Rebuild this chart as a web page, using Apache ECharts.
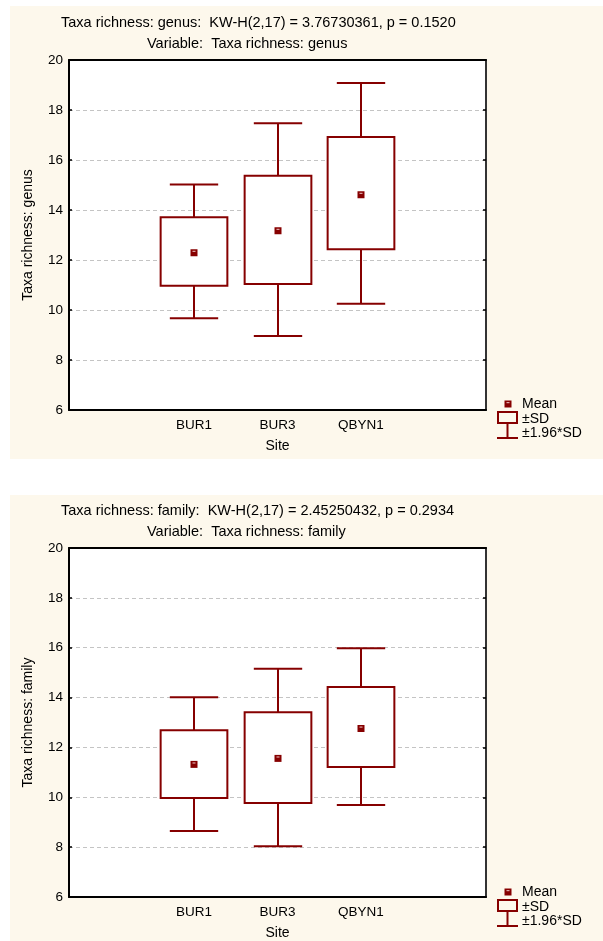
<!DOCTYPE html>
<html>
<head>
<meta charset="utf-8">
<script src="https://cdn.jsdelivr.net/npm/echarts@6/dist/echarts.min.js"></script>
<style>
html,body{margin:0;padding:0;background:#ffffff;}
#chart{width:603px;height:941px;}
</style>
</head>
<body>
<div id="chart"></div>
<script>
// ---- data ----
const categories = ['', 'BUR1', 'BUR3', 'QBYN1', ' '];
const sites = ['BUR1', 'BUR3', 'QBYN1'];
const yTicks = [6, 8, 10, 12, 14, 16, 18, 20];

// Taxa richness: genus
const genusCiLow  = [9.67, 8.96, 10.25];
const genusSdLow  = [10.97, 11.04, 12.43];
const genusMean   = [12.29, 13.17, 14.61];
const genusSdHigh = [13.71, 15.37, 16.92];
const genusCiHigh = [15.02, 17.47, 19.08];

// Taxa richness: family
const familyCiLow  = [8.65, 8.04, 9.69];
const familySdLow  = [9.97, 9.77, 11.21];
const familyMean   = [11.32, 11.56, 12.76];
const familySdHigh = [12.69, 13.41, 14.42];
const familyCiHigh = [14.01, 15.16, 15.98];

const panelTitles = [
  'Taxa richness: genus:  KW-H(2,17) = 3.76730361, p = 0.1520',
  'Taxa richness: family:  KW-H(2,17) = 2.45250432, p = 0.2934'
];
const panelSubtitles = ['Variable:  Taxa richness: genus', 'Variable:  Taxa richness: family'];
const yNames = ['Taxa richness: genus', 'Taxa richness: family'];
const xName = 'Site';
const legendLabels = ['Mean', '\u00b1SD', '\u00b11.96*SD'];

// ---- styling ----
const FONT = "'Liberation Sans', Arial, sans-serif";
const RED = '#860000';
const CREAM = '#fdf8ec';
const PANEL_OFFSET = 488;

function buildRows(ciLo, sdLo, mean, sdHi, ciHi) {
  return sites.map((s, i) => [categories.indexOf(s), ciLo[i], sdLo[i], mean[i], sdHi[i], ciHi[i]]);
}

function renderBox(params, api) {
  const x = api.value(0);
  const ciLo = api.coord([x, api.value(1)]);
  const sdLo = api.coord([x, api.value(2)]);
  const mean = api.coord([x, api.value(3)]);
  const sdHi = api.coord([x, api.value(4)]);
  const ciHi = api.coord([x, api.value(5)]);
  const band = api.size([1, 0])[0];
  const bw = band * 0.8, cw = band * 0.58;
  const cx = Math.round(mean[0]);
  const ls = {stroke: RED, lineWidth: 2, fill: null};
  return {
    type: 'group',
    children: [
      {type: 'line', shape: {x1: cx, y1: sdHi[1], x2: cx, y2: ciHi[1]}, style: ls},
      {type: 'line', shape: {x1: cx - cw / 2, y1: ciHi[1], x2: cx + cw / 2, y2: ciHi[1]}, style: ls},
      {type: 'line', shape: {x1: cx, y1: sdLo[1], x2: cx, y2: ciLo[1]}, style: ls},
      {type: 'line', shape: {x1: cx - cw / 2, y1: ciLo[1], x2: cx + cw / 2, y2: ciLo[1]}, style: ls},
      {type: 'rect', shape: {x: cx - bw / 2, y: sdHi[1], width: bw, height: sdLo[1] - sdHi[1]},
        style: {stroke: RED, lineWidth: 2, fill: '#ffffff'}},
      {type: 'rect', shape: {x: cx - 3.5, y: mean[1] - 3.5, width: 7, height: 7}, style: {fill: RED}},
      {type: 'rect', shape: {x: cx - 1.5, y: mean[1] - 2, width: 3, height: 1.2}, style: {fill: '#e0a8a8'}}
    ]
  };
}

const grids = [], xAxes = [], yAxes = [], series = [], titles = [], graphics = [];
const panels = [
  buildRows(genusCiLow, genusSdLow, genusMean, genusSdHigh, genusCiHigh),
  buildRows(familyCiLow, familySdLow, familyMean, familySdHigh, familyCiHigh)
];

panels.forEach((rows, p) => {
  const off = p * PANEL_OFFSET;
  grids.push({left: 69, top: 60 + off, width: 417, height: 350, show: true,
    backgroundColor: '#ffffff', borderWidth: 0});
  const tickLabel = {fontFamily: FONT, fontSize: 13.5, color: '#000'};
  xAxes.push({
    type: 'category', gridIndex: p, data: categories, position: 'bottom',
    boundaryGap: true, z: 3,
    axisLine: {lineStyle: {color: '#000', width: 2}},
    axisTick: {inside: true, alignWithLabel: true, length: 3, lineStyle: {color: '#000', width: 1.5}},
    axisLabel: Object.assign({margin: 8}, tickLabel),
    name: xName, nameLocation: 'middle', nameGap: 29,
    nameTextStyle: {fontFamily: FONT, fontSize: 14, color: '#000'},
    splitLine: {show: false}
  });
  xAxes.push({
    type: 'category', gridIndex: p, data: categories, position: 'top',
    boundaryGap: true, z: 3,
    axisLine: {lineStyle: {color: '#000', width: 2}},
    axisTick: {inside: true, alignWithLabel: true, length: 3, lineStyle: {color: '#000', width: 1.5}},
    axisLabel: {show: false}, splitLine: {show: false}
  });
  yAxes.push({
    type: 'value', gridIndex: p, min: yTicks[0], max: yTicks[yTicks.length - 1], interval: 2,
    position: 'left', z: 2,
    axisLine: {show: true, lineStyle: {color: '#000', width: 2}},
    axisTick: {show: true, inside: true, length: 3, lineStyle: {color: '#000', width: 1.5}},
    axisLabel: Object.assign({margin: 6}, tickLabel),
    splitLine: {show: true, lineStyle: {color: '#c4c4c4', type: [4, 3], width: 1}},
    name: yNames[p], nameLocation: 'middle', nameRotate: 90, nameGap: 34,
    nameTextStyle: {fontFamily: FONT, fontSize: 14, color: '#000'}
  });
  yAxes.push({
    type: 'value', gridIndex: p, min: yTicks[0], max: yTicks[yTicks.length - 1], interval: 2,
    position: 'right', z: 3,
    axisLine: {show: true, lineStyle: {color: '#333', width: 2}},
    axisTick: {show: true, inside: true, length: 3, lineStyle: {color: '#000', width: 1.5}},
    axisLabel: {show: false}, splitLine: {show: false}
  });
  series.push({
    type: 'custom', name: yNames[p], xAxisIndex: p * 2, yAxisIndex: p * 2,
    renderItem: renderBox, encode: {x: 0, y: [1, 2, 3, 4, 5]}, data: rows, z: 5
  });
  titles.push({text: panelTitles[p], left: 61, top: 15 + off, padding: 0,
    textStyle: {fontFamily: FONT, fontSize: 14.5, fontWeight: 'normal', color: '#000', lineHeight: 16}});
  titles.push({text: panelSubtitles[p], left: 147, top: 36 + off, padding: 0,
    textStyle: {fontFamily: FONT, fontSize: 14.5, fontWeight: 'normal', color: '#000', lineHeight: 16}});

  // panel background
  graphics.push({type: 'rect', z: -100, silent: true,
    shape: {x: 10, y: p === 0 ? 6 : 495, width: 593, height: p === 0 ? 453 : 446},
    style: {fill: CREAM}});
  // legend key
  const ly = off;
  graphics.push({type: 'rect', z: 10, shape: {x: 504.5, y: 400.5 + ly, width: 7, height: 7}, style: {fill: RED}});
  graphics.push({type: 'rect', z: 10, shape: {x: 506.5, y: 402 + ly, width: 3, height: 1.2}, style: {fill: '#e0a8a8'}});
  graphics.push({type: 'rect', z: 10, shape: {x: 498, y: 412 + ly, width: 19, height: 11},
    style: {fill: null, stroke: RED, lineWidth: 2}});
  graphics.push({type: 'line', z: 10, shape: {x1: 507.5, y1: 423 + ly, x2: 507.5, y2: 438 + ly},
    style: {stroke: RED, lineWidth: 2}});
  graphics.push({type: 'line', z: 10, shape: {x1: 497, y1: 438 + ly, x2: 518, y2: 438 + ly},
    style: {stroke: RED, lineWidth: 2}});
  [404, 419, 433].forEach((yy, k) => {
    graphics.push({type: 'text', z: 10, x: 522, y: yy + ly,
      style: {text: legendLabels[k], fontFamily: FONT, fontSize: 14, fill: '#000', verticalAlign: 'middle', align: 'left'}});
  });
});

const chart = echarts.init(document.getElementById('chart'), null, {renderer: 'canvas'});
chart.setOption({
  backgroundColor: '#ffffff',
  animation: false,
  title: titles,
  grid: grids,
  xAxis: xAxes,
  yAxis: yAxes,
  series: series,
  graphic: graphics
});
</script>
</body>
</html>
